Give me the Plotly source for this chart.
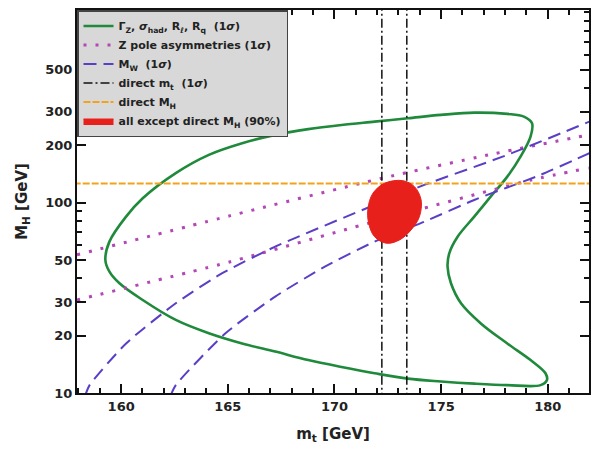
import plotly.graph_objects as go

# ---- data ----
# Gamma_Z, sigma_had, R_l, R_q 1-sigma contour (closed)
gz_mt = [159.26, 159.45, 160.23, 161.01, 162.56, 164.11, 165.67, 167.22, 168.77, 170.33,
         171.88, 173.44, 174.99, 176.55, 178.10, 178.88, 179.26, 179.19, 178.72, 178.10,
         177.32, 176.55, 175.77, 175.38, 175.30, 175.46, 175.93, 176.86, 178.10, 179.19,
         179.89, 179.96, 179.66, 178.10, 176.55, 174.99, 173.44, 171.88, 170.33, 168.77,
         167.22, 165.67, 164.11, 162.56, 161.01, 159.92, 159.45, 159.26]
gz_mh = [50.0, 62.4, 84.4, 105.4, 142.9, 178.2, 205.1, 227.0, 243.3, 255.9,
         266.5, 277.6, 289.0, 297.0, 292.5, 283.0, 261.0, 222.5, 174.6, 137.0,
         107.5, 84.4, 66.2, 54.2, 46.1, 37.7, 29.6, 23.2, 18.2, 14.9,
         12.7, 11.7, 11.0, 11.0, 11.2, 11.5, 11.9, 12.7, 13.7, 14.9,
         16.5, 18.2, 20.6, 24.2, 30.8, 37.7, 43.4, 50.0]

# Z pole asymmetries (1 sigma) band edges
zp_up_mt = [157.93, 165.08, 172.22, 177.20, 181.91]
zp_up_mh = [53.2, 85.2, 134.3, 178.0, 227.0]
zp_lo_mt = [157.93, 165.08, 171.60, 179.22, 181.91]
zp_lo_mh = [30.8, 48.8, 78.0, 131.5, 152.0]

# M_W (1 sigma) band edges
mw_up_mt = [158.30, 158.52, 160.23, 162.56, 164.74, 167.22, 171.88, 174.21, 178.10, 181.95]
mw_up_mh = [9.6, 11.0, 18.2, 29.6, 42.6, 58.7, 97.3, 123.9, 178.2, 266.5]
mw_lo_mt = [162.30, 162.56, 164.89, 167.22, 169.55, 171.88, 174.21, 176.55, 179.65, 181.95]
mw_lo_mh = [9.6, 11.0, 20.6, 32.1, 46.1, 62.4, 79.4, 103.3, 139.8, 182.0]

# direct m_t (1 sigma)
mt_direct = [172.22, 173.39]
# direct M_H
mh_direct = 126.0

# all except direct M_H (90%) region outline
fit_mt = [173.20, 173.75, 174.06, 173.98, 173.59, 173.05, 172.43, 171.88, 171.60, 171.57,
          171.80, 172.35, 173.20]
fit_mh = [130.5, 121.3, 103.3, 84.4, 71.9, 63.7, 61.2, 66.2, 78.0, 93.5,
          112.0, 126.5, 130.5]

x_range = [157.93, 181.93]
y_range_log = [1.0, 3.012]
x_ticks = [160, 165, 170, 175, 180]
y_ticks = [10, 20, 30, 50, 100, 200, 300, 500]

GREEN = "#1f8a3b"
PINK = "#b247b5"
BLUE = "#5a3fc6"
ORANGE = "#f2a31c"
RED = "#e8201c"
INK = "#111111"

fig = go.Figure()

fig.add_trace(go.Scatter(
    x=gz_mt, y=gz_mh, mode="lines", line=dict(color=GREEN, width=2.6, shape="spline", smoothing=1.0),
    name="Γ<sub>Z</sub>, <i>σ</i><sub>had</sub>, R<sub>ℓ</sub>, R<sub>q</sub>  (1<i>σ</i>)"))

for i, (xs, ys) in enumerate([(zp_up_mt, zp_up_mh), (zp_lo_mt, zp_lo_mh)]):
    fig.add_trace(go.Scatter(
        x=xs, y=ys, mode="lines", legendgroup="zp", showlegend=(i == 0),
        line=dict(color=PINK, width=3, dash="3px,9px", shape="spline", smoothing=0.6),
        name="Z pole asymmetries (1<i>σ</i>)"))

for i, (xs, ys) in enumerate([(mw_up_mt, mw_up_mh), (mw_lo_mt, mw_lo_mh)]):
    fig.add_trace(go.Scatter(
        x=xs, y=ys, mode="lines", legendgroup="mw", showlegend=(i == 0),
        line=dict(color=BLUE, width=2, dash="13px,7px", shape="spline", smoothing=0.6),
        name="M<sub>W</sub>  (1<i>σ</i>)"))

for i, mt in enumerate(mt_direct):
    fig.add_trace(go.Scatter(
        x=[mt, mt], y=[10 ** y_range_log[0] * 0.9, 10 ** y_range_log[1] * 1.1], mode="lines",
        legendgroup="mt", showlegend=(i == 0),
        line=dict(color=INK, width=1.5, dash="9px,3px,2px,3px"),
        name="direct m<sub>t</sub>  (1<i>σ</i>)"))

fig.add_trace(go.Scatter(
    x=[x_range[0] - 1, x_range[1] + 1], y=[mh_direct, mh_direct], mode="lines",
    line=dict(color=ORANGE, width=2, dash="7px,2px"),
    name="direct M<sub>H</sub>"))

fig.add_trace(go.Scatter(
    x=fit_mt, y=fit_mh, mode="lines", fill="toself", fillcolor=RED,
    line=dict(color=RED, width=1, shape="spline", smoothing=1.0),
    name="all except direct M<sub>H</sub> (90%)"))

tick_font = dict(family="DejaVu Sans", size=13, color="#222222", weight="bold")
title_font = dict(family="DejaVu Sans", size=15, color="#222222", weight="bold")

fig.update_layout(
    xaxis=dict(
        range=x_range, tickmode="array", tickvals=x_ticks,
        showline=True, linecolor=INK, linewidth=2, mirror="ticks",
        ticks="inside", ticklen=9, tickwidth=2, tickcolor=INK,
        minor=dict(ticks="inside", ticklen=5, dtick=1, tickcolor=INK, tickwidth=1.6),
        showgrid=False, zeroline=False, tickfont=tick_font,
        title=dict(text="m<sub>t</sub> [GeV]", standoff=16, font=title_font)),
    yaxis=dict(
        type="log", range=y_range_log, tickmode="array", tickvals=y_ticks,
        showline=True, linecolor=INK, linewidth=2, mirror="ticks",
        ticks="inside", ticklen=9, tickwidth=2, tickcolor=INK,
        minor=dict(ticks="inside", ticklen=5, dtick="D1", tickcolor=INK, tickwidth=1.6),
        showgrid=False, zeroline=False, tickfont=tick_font,
        title=dict(text="M<sub>H</sub> [GeV]", standoff=14, font=title_font)),
    width=593, height=449,
    margin=dict(l=77, r=2, t=10, b=56),
    paper_bgcolor="white", plot_bgcolor="white",
    showlegend=True,
    legend=dict(
        x=0, y=1, xanchor="left", yanchor="top",
        bgcolor="#d8d8d8", bordercolor="#444444", borderwidth=1.5,
        font=dict(family="DejaVu Sans", size=11, color="#222222", weight="bold"),
        tracegroupgap=0, itemwidth=30,
    ),
)

fig.write_html("out.html", config={"displayModeBar": False},
               post_script="document.body.style.margin='0';")
